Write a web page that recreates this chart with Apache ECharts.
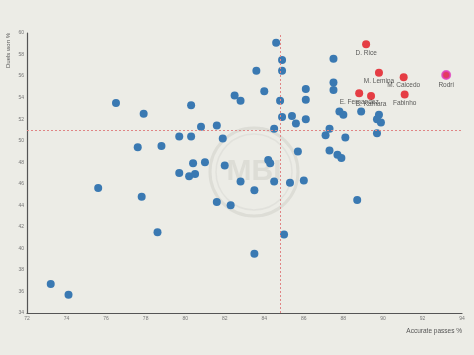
<!DOCTYPE html>
<html>
<head>
<meta charset="utf-8">
<script src="https://cdn.jsdelivr.net/npm/echarts@6/dist/echarts.min.js"></script>
<style>
html,body{margin:0;padding:0;background:#ecece6;}
#c{width:474px;height:355px;}
</style>
</head>
<body>
<div id="c"></div>
<script>
// Other players (blue)
const otherX = [73.2,74.1,75.6,77.8,78.6,76.5,77.9,77.6,78.8,84.6,84.9,84.9,83.6,84.0,82.5,82.8,80.3,84.8,86.1,86.1,84.9,85.4,85.6,86.1,80.8,81.6,79.7,80.3,81.9,84.5,85.7,80.4,81.0,82.0,84.2,84.3,79.7,80.2,80.5,82.8,83.5,84.5,85.3,86.0,81.6,82.3,85.0,83.5,87.5,87.5,87.5,87.8,88.0,88.9,89.8,89.7,89.9,87.3,87.1,88.1,89.7,87.3,87.7,87.9,88.7];
const otherY = [36.7,35.7,45.6,44.8,41.5,53.5,52.5,49.4,49.5,59.1,57.5,56.5,56.5,54.6,54.2,53.7,53.3,53.7,54.8,53.8,52.2,52.3,51.6,52.0,51.3,51.4,50.4,50.4,50.2,51.1,49.0,47.9,48.0,47.7,48.2,47.9,47.0,46.7,46.9,46.2,45.4,46.2,46.1,46.3,44.3,44.0,41.3,39.5,57.6,55.4,54.7,52.7,52.4,52.7,52.4,52.0,51.7,51.1,50.5,50.3,50.7,49.1,48.7,48.4,44.5];
// Highlighted players (red)
const hlNames = ["D. Rice","M. Lemina","M. Caicedo","E. Fernandez","B. Kamara","Fabinho"];
const hlX = [89.15,89.8,91.05,88.8,89.4,91.1];
const hlY = [58.95,56.3,55.9,54.4,54.15,54.3];
// Focus player
const focusName = ["Rodri"];
const focusX = [93.2];
const focusY = [56.1];
// Average reference lines
const avgX = 84.8;
const avgY = 51.0;
// Axis ranges
const xRange = [72, 94];
const yRange = [34, 60];

const chart = echarts.init(document.getElementById('c'), null, {renderer:'canvas'});
const font = 'Liberation Sans, Arial, sans-serif';
const toPts = (xs, ys, names) => xs.map((x, i) => names ? {name: names[i], value: [x, ys[i]]} : [x, ys[i]]);

const axisCommon = {
  axisLine: {show: true, lineStyle: {color: '#555', width: 1.2}},
  axisTick: {show: false},
  splitLine: {show: false},
  axisLabel: {fontSize: 5, color: '#777', fontFamily: font, margin: 3}
};

chart.setOption({
  backgroundColor: '#ecece6',
  animation: false,
  grid: {left: 27, right: 12, top: 33, bottom: 42},
  xAxis: Object.assign({type: 'value', min: xRange[0], max: xRange[1], interval: 2}, axisCommon),
  yAxis: Object.assign({type: 'value', min: yRange[0], max: yRange[1], interval: 2}, axisCommon),
  graphic: [
    {type: 'circle', shape: {cx: 254, cy: 172, r: 44}, style: {fill: 'none', stroke: 'rgba(185,185,180,0.3)', lineWidth: 3}, z: -1, silent: true},
    {type: 'circle', shape: {cx: 254, cy: 172, r: 38}, style: {fill: 'none', stroke: 'rgba(185,185,180,0.2)', lineWidth: 1.5}, z: -1, silent: true},
    {type: 'text', x: 254, y: 172, style: {text: 'MBI', fontSize: 30, fontWeight: 'bold', fontFamily: font, fill: 'rgba(185,185,180,0.3)', align: 'center', verticalAlign: 'middle'}, z: -1, silent: true},
    {type: 'text', x: 8, y: 33, rotation: Math.PI / 2, style: {text: 'Duels won %', fontSize: 6, fontFamily: font, fill: '#555', align: 'right', verticalAlign: 'middle'}},
    {type: 'text', x: 462, y: 331, style: {text: 'Accurate passes %', fontSize: 6.5, fontFamily: font, fill: '#555', align: 'right', verticalAlign: 'middle'}}
  ],
  series: [
    {
      type: 'scatter',
      data: toPts(otherX, otherY),
      symbolSize: 8,
      itemStyle: {color: '#3a79b2', opacity: 1},
      z: 2,
      markLine: {
        symbol: 'none', silent: true, animation: false,
        label: {show: false},
        lineStyle: {color: '#e08585', type: [2, 2], width: 1},
        data: [{xAxis: avgX}, {yAxis: avgY}]
      }
    },
    {
      type: 'scatter',
      data: toPts(hlX, hlY, hlNames),
      symbolSize: 8,
      itemStyle: {color: '#e4121b'},
      z: 3,
      label: {show: true, position: 'bottom', distance: 1, formatter: '{b}', fontSize: 6.5, color: '#333', fontFamily: font}
    },
    {
      type: 'scatter',
      data: toPts(focusX, focusY, focusName),
      symbolSize: 8,
      itemStyle: {color: '#e01040', borderColor: '#e040c0', borderWidth: 2},
      z: 4,
      label: {show: true, position: 'bottom', distance: 2, formatter: '{b}', fontSize: 6.5, color: '#333', fontFamily: font}
    }
  ]
});
</script>
</body>
</html>
